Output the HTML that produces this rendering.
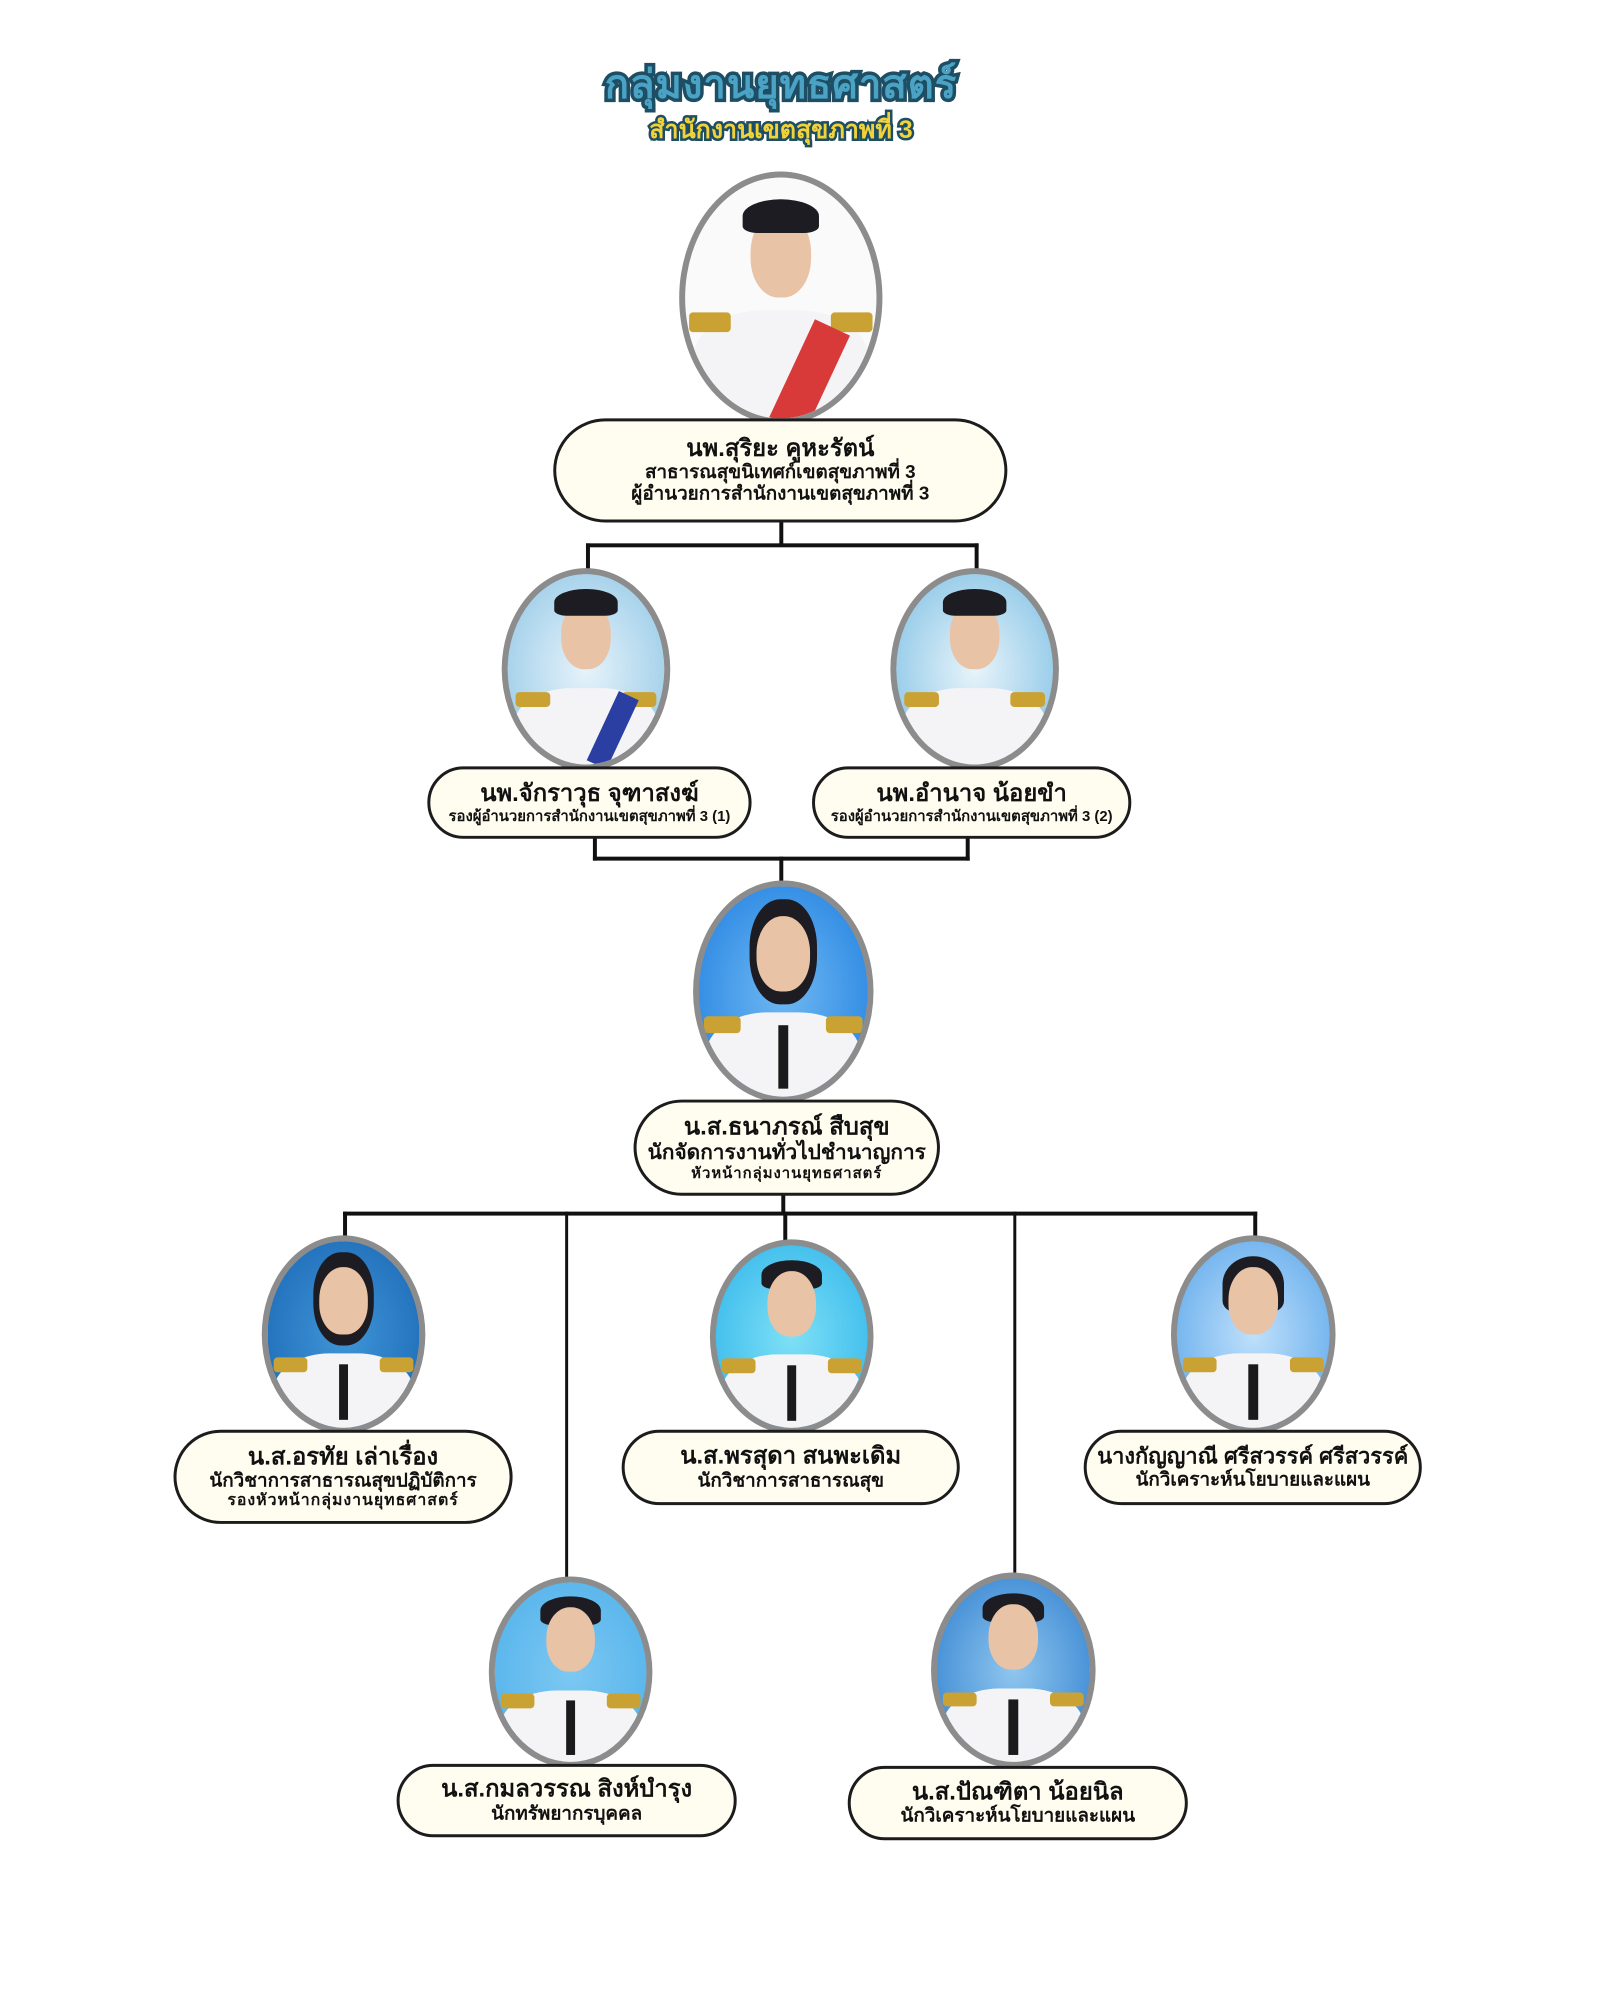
<!DOCTYPE html>
<html><head><meta charset="utf-8"><style>
html,body{margin:0;padding:0;background:#fff;}
body{width:1600px;height:2000px;position:relative;overflow:hidden;font-family:"Liberation Sans","Noto Sans CJK SC",sans-serif;}
#w{position:absolute;left:0;top:0;width:1600px;height:2000px;transform:scale(0.9915);transform-origin:0 0;}
.a{position:absolute;}
.ln{position:absolute;background:#111;}
.ov{position:absolute;border:6px solid #8c8c8c;border-radius:50%;overflow:hidden;box-sizing:border-box;}
.ov .hd{position:absolute;left:34%;width:32%;top:14%;height:36%;border-radius:48% 48% 45% 45%;background:#e9c3a6;}
.ov .hr{position:absolute;left:30%;width:40%;top:8%;height:22%;border-radius:50% 50% 20% 20%;background:#1c1c22;}
.ov .bd{position:absolute;left:4%;width:92%;top:60%;height:50%;border-radius:40% 40% 0 0;background:#f4f4f6;}
.ov .ep{position:absolute;top:62%;width:22%;height:8%;background:#c9a233;border-radius:4px;}
.ov .tie{position:absolute;left:47%;width:6%;top:66%;height:30%;background:#1a1a1a;}
.bx{position:absolute;box-sizing:border-box;background:#fffdf0;border:3px solid #1c1c1c;border-radius:60px;text-align:center;font-weight:bold;color:#111;display:flex;flex-direction:column;justify-content:center;line-height:1.15;white-space:nowrap;}
.n{font-size:24px;}
.s{font-size:19px;}
.t{font-size:16px;letter-spacing:1px;}
</style></head><body>

<div class="a" style="left:0;width:1562px;top:52px;text-align:center;font-size:40px;font-weight:bold;color:#4aa3c4;-webkit-text-stroke:7px #1d4e63;paint-order:stroke fill;letter-spacing:1px;">กลุ่มงานยุทธศาสตร์</div>
<div class="a" style="left:0;width:1562px;top:110px;text-align:center;font-size:25px;font-weight:bold;color:#f2d23a;-webkit-text-stroke:5px #1d4e63;paint-order:stroke fill;">สำนักงานเขตสุขภาพที่ 3</div>

<div id="w">
<div class="ln" style="left:786px;top:526px;width:4px;height:25px"></div>
<div class="ln" style="left:591px;top:548px;width:396px;height:4px"></div>
<div class="ln" style="left:591px;top:548px;width:4px;height:27px"></div>
<div class="ln" style="left:983px;top:548px;width:4px;height:27px"></div>

<div class="ln" style="left:598px;top:845px;width:4px;height:23px"></div>
<div class="ln" style="left:974px;top:845px;width:4px;height:23px"></div>
<div class="ln" style="left:598px;top:864px;width:380px;height:4px"></div>
<div class="ln" style="left:786px;top:864px;width:4px;height:27px"></div>

<div class="ln" style="left:788px;top:1205px;width:4px;height:20px"></div>
<div class="ln" style="left:346px;top:1222px;width:922px;height:4px"></div>
<div class="ln" style="left:346px;top:1222px;width:4px;height:28px"></div>
<div class="ln" style="left:570px;top:1222px;width:3px;height:370px"></div>
<div class="ln" style="left:790px;top:1222px;width:4px;height:34px"></div>
<div class="ln" style="left:1022px;top:1222px;width:3px;height:364px"></div>
<div class="ln" style="left:1264px;top:1222px;width:4px;height:28px"></div>

<div class="ov" style="left:685px;top:173px;width:205px;height:255px;background:#fafafa"><div class="hd"></div><div class="hr" style="top:9%;height:14%"></div><div class="bd" style="top:55%"></div><div class="ep" style="left:2%;top:56%"></div><div class="ep" style="left:76%;top:56%"></div><div class="a" style="left:55%;top:60%;width:20%;height:45%;background:#d83a3a;transform:rotate(25deg)"></div></div>
<div class="bx" style="left:558px;top:422px;width:458px;height:105px"><div class="n">นพ.สุริยะ คูหะรัตน์</div><div class="s">สาธารณสุขนิเทศก์เขตสุขภาพที่ 3</div><div class="s">ผู้อำนวยการสำนักงานเขตสุขภาพที่ 3</div></div>

<div class="ov" style="left:506px;top:573px;width:170px;height:204px;background:radial-gradient(#e6f3fa,#8fc6e6)"><div class="hd"></div><div class="hr" style="height:14%"></div><div class="bd"></div><div class="ep" style="left:5%"></div><div class="ep" style="left:73%"></div><div class="a" style="left:60%;top:62%;width:14%;height:40%;background:#2b3fa3;transform:rotate(25deg)"></div></div>
<div class="bx" style="left:431px;top:773px;width:327px;height:73px"><div class="n">นพ.จักราวุธ จุฑาสงฆ์</div><div class="t" style="font-size:15px;letter-spacing:0">รองผู้อำนวยการสำนักงานเขตสุขภาพที่ 3 (1)</div></div>
<div class="ov" style="left:898px;top:573px;width:170px;height:204px;background:radial-gradient(#e8f4fa,#7dbfe4)"><div class="hd"></div><div class="hr" style="height:14%"></div><div class="bd"></div><div class="ep" style="left:5%"></div><div class="ep" style="left:73%"></div></div>
<div class="bx" style="left:819px;top:773px;width:322px;height:73px"><div class="n">นพ.อำนาจ น้อยขำ</div><div class="t" style="font-size:15px;letter-spacing:0">รองผู้อำนวยการสำนักงานเขตสุขภาพที่ 3 (2)</div></div>

<div class="ov" style="left:699px;top:888px;width:182px;height:224px;background:radial-gradient(#6fb8f2,#1f7fe0)"><div class="hr" style="top:6%;height:50%;border-radius:45%"></div><div class="hd"></div><div class="bd"></div><div class="ep" style="left:3%"></div><div class="ep" style="left:75%"></div><div class="tie"></div></div>
<div class="bx" style="left:639px;top:1109px;width:309px;height:97px"><div class="n">น.ส.ธนาภรณ์ สืบสุข</div><div class="s" style="font-size:21px">นักจัดการงานทั่วไปชำนาญการ</div><div class="t" style="font-size:15px">หัวหน้ากลุ่มงานยุทธศาสตร์</div></div>

<div class="ov" style="left:264px;top:1246px;width:165px;height:200px;background:radial-gradient(#3f95d6,#1a66b5)"><div class="hr" style="top:6%;height:50%;border-radius:45%"></div><div class="hd"></div><div class="bd"></div><div class="ep" style="left:4%"></div><div class="ep" style="left:74%"></div><div class="tie"></div></div>
<div class="bx" style="left:175px;top:1442px;width:342px;height:95px"><div class="n">น.ส.อรทัย เล่าเรื่อง</div><div class="s">นักวิชาการสาธารณสุขปฏิบัติการ</div><div class="t">รองหัวหน้ากลุ่มงานยุทธศาสตร์</div></div>

<div class="ov" style="left:716px;top:1250px;width:165px;height:196px;background:radial-gradient(#7fe0f6,#2eb4ea)"><div class="hr" style="height:16%"></div><div class="hd"></div><div class="bd"></div><div class="ep" style="left:4%"></div><div class="ep" style="left:74%"></div><div class="tie"></div></div>
<div class="bx" style="left:627px;top:1442px;width:341px;height:76px"><div class="n">น.ส.พรสุดา สนพะเดิม</div><div class="s">นักวิชาการสาธารณสุข</div></div>

<div class="ov" style="left:1181px;top:1246px;width:166px;height:200px;background:radial-gradient(#bfe0fb,#5aa6ea)"><div class="hr" style="top:8%;height:30%"></div><div class="hd"></div><div class="bd"></div><div class="ep" style="left:4%"></div><div class="ep" style="left:74%"></div><div class="tie"></div></div>
<div class="bx" style="left:1093px;top:1442px;width:341px;height:76px"><div class="n" style="font-size:22px">นางกัญญาณี ศรีสวรรค์ ศรีสวรรค์</div><div class="s">นักวิเคราะห์นโยบายและแผน</div></div>

<div class="ov" style="left:493px;top:1590px;width:165px;height:193px;background:radial-gradient(#7cc8f2,#4fb0ea)"><div class="hr" style="height:16%"></div><div class="hd"></div><div class="bd"></div><div class="ep" style="left:4%"></div><div class="ep" style="left:74%"></div><div class="tie"></div></div>
<div class="bx" style="left:400px;top:1779px;width:343px;height:74px"><div class="n">น.ส.กมลวรรณ สิงห์บำรุง</div><div class="s">นักทรัพยากรบุคคล</div></div>

<div class="ov" style="left:939px;top:1586px;width:166px;height:197px;background:radial-gradient(#8fc6ee,#2f7fd0)"><div class="hr" style="height:16%"></div><div class="hd"></div><div class="bd"></div><div class="ep" style="left:4%"></div><div class="ep" style="left:74%"></div><div class="tie"></div></div>
<div class="bx" style="left:855px;top:1781px;width:343px;height:75px"><div class="n">น.ส.ปัณฑิตา น้อยนิล</div><div class="s">นักวิเคราะห์นโยบายและแผน</div></div>
</div>
</body></html>
